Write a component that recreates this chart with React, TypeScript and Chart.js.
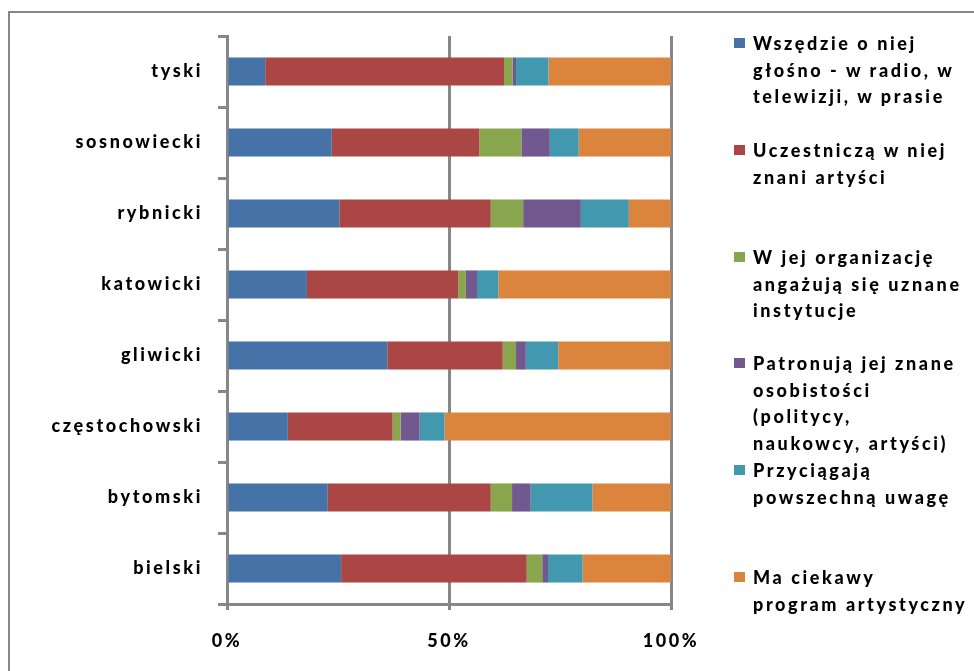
import React, { useEffect, useRef } from "react";
import { Chart, registerables } from "chart.js";

Chart.register(...registerables);

const categories = ["tyski", "sosnowiecki", "rybnicki", "katowicki", "gliwicki", "częstochowski", "bytomski", "bielski"];

const seriesNames: string[][] = [
  ["Wszędzie o niej", "głośno - w radio, w", "telewizji, w prasie"],
  ["Uczestniczą w niej", "znani artyści"],
  ["W jej organizację", "angażują się uznane", "instytucje"],
  ["Patronują jej znane", "osobistości", "(politycy,", "naukowcy, artyści)"],
  ["Przyciągają", "powszechną uwagę"],
  ["Ma ciekawy", "program artystyczny"],
];

const wszedzie = [8.6, 23.6, 25.3, 18.0, 36.1, 13.7, 22.7, 25.7];
const uczestnicza = [53.8, 33.2, 34.1, 34.1, 26.0, 23.6, 36.7, 41.8];
const organizacja = [1.9, 9.5, 7.3, 1.7, 3.0, 1.8, 4.8, 3.5];
const patronuja = [0.8, 6.4, 13.0, 2.5, 2.2, 4.3, 4.2, 1.3];
const przyciagaja = [7.3, 6.5, 10.8, 4.8, 7.3, 5.6, 13.9, 7.8];
const program = [27.6, 20.8, 9.5, 38.9, 25.4, 51.0, 17.7, 19.9];

const xTicks = [0, 50, 100];

const colors = ["#4572A7", "#AA4643", "#89A54E", "#71588F", "#4198AF", "#DB843D"];
const GRAY = "#878787";
const FONT = "Lato, 'Open Sans', sans-serif";
const LS = "2.6px";
const WEIGHT = 900;
const FS = 18;

const legendTops = [43, 150, 257, 363, 470, 577];

export default function App() {
  const ref = useRef<HTMLCanvasElement | null>(null);

  useEffect(() => {
    if (!ref.current) return;
    const allSeries = [wszedzie, uczestnicza, organizacja, patronuja, przyciagaja, program];
    const spacing = {
      id: "letterSpacing",
      beforeLayout(chart: any) {
        chart.ctx.letterSpacing = LS;
      },
      beforeDraw(chart: any) {
        chart.ctx.letterSpacing = LS;
      },
    };
    const chart = new Chart(ref.current, {
      type: "bar",
      data: {
        labels: categories,
        datasets: allSeries.map((d, i) => ({
          label: seriesNames[i].join(" "),
          data: d,
          backgroundColor: colors[i],
          borderWidth: 0,
          barPercentage: 0.9,
          categoryPercentage: 0.44,
        })),
      },
      options: {
        indexAxis: "y",
        responsive: false,
        animation: false,
        layout: { padding: { top: 36, right: 303, left: 0, bottom: 0 } },
        plugins: { legend: { display: false }, tooltip: { enabled: false } },
        scales: {
          x: {
            stacked: true,
            min: 0,
            max: 100,
            afterBuildTicks(scale: any) {
              scale.ticks = xTicks.map((v) => ({ value: v }));
            },
            afterFit(scale: any) {
              scale.height = 67;
            },
            ticks: {
              callback: (v: any) => v + "%",
              color: "#000",
              font: { family: FONT, size: FS, weight: WEIGHT },
              padding: 20,
              maxRotation: 0,
            },
            grid: { color: GRAY, lineWidth: 3, tickLength: 6, drawTicks: true },
            border: { display: true, color: GRAY, width: 3 },
          },
          y: {
            stacked: true,
            afterFit(scale: any) {
              scale.width = 227;
            },
            ticks: {
              color: "#000",
              font: { family: FONT, size: FS, weight: WEIGHT },
              padding: 15,
            },
            grid: { color: GRAY, lineWidth: 3, tickLength: 9, drawOnChartArea: false, drawTicks: true, offset: true },
            border: { display: true, color: GRAY, width: 3 },
          },
        },
      },
      plugins: [spacing],
    } as any);
    return () => chart.destroy();
  }, []);

  return (
    <div style={{ position: "fixed", left: 0, top: 0, width: 974, height: 671, overflow: "hidden", background: "#fff" }}>
      <div
        style={{
          position: "absolute",
          left: 8,
          top: 11,
          width: 1000,
          height: 700,
          border: `2px solid ${GRAY}`,
          boxSizing: "border-box",
        }}
      />
      <canvas ref={ref} width={974} height={671} style={{ position: "absolute", left: 0, top: 0, display: "block" }} />
      {seriesNames.map((lines, i) => (
        <div key={i} style={{ position: "absolute", left: 734, top: legendTops[i] - 13 }}>
          <div
            style={{
              position: "absolute",
              left: 0,
              top: 8,
              width: 11,
              height: 10,
              background: colors[i],
            }}
          />
          <div
            style={{
              position: "absolute",
              left: 19,
              top: 0,
              whiteSpace: "nowrap",
              fontFamily: FONT,
              fontWeight: WEIGHT,
              fontSize: FS,
              lineHeight: "26.5px",
              letterSpacing: LS,
              color: "#000",
            }}
          >
            {lines.map((l, j) => (
              <div key={j}>{l}</div>
            ))}
          </div>
        </div>
      ))}
    </div>
  );
}
